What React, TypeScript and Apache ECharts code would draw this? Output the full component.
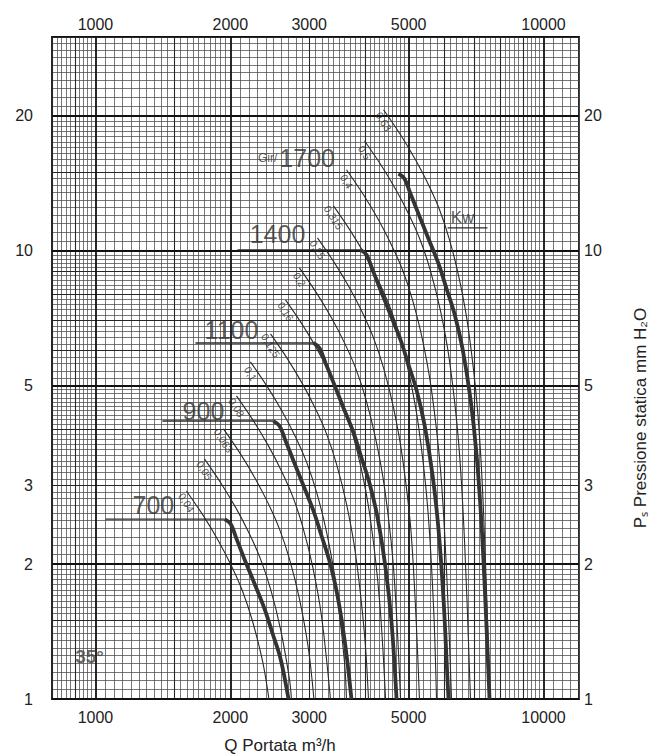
import React, { useEffect, useRef } from "react";
import * as echarts from "echarts";

// ---------- axes (log-log paper) ----------
const qRange = [800, 12000]; // Q Portata m3/h
const psRange = [1, 30]; // Ps mm H2O
const qTicks = [1000, 2000, 3000, 5000, 10000];
const psTicks = [1, 2, 3, 5, 10, 20];
// log paper subdivision of each decade: [from, to, step] of the mantissa
const paperSubdivisions = [
  [1, 2, 0.05],
  [2, 5, 0.1],
  [5, 10, 0.2],
];

// ---------- fan curves (rpm) : [Q m3/h, Ps mm H2O] ----------
const speeds = ["700", "900", "1100", "1400", "1700"];
const fan700 = [[1941, 2.52], [2002, 2.46], [2064, 2.28], [2151, 2.05], [2264, 1.81], [2384, 1.59], [2485, 1.4], [2589, 1.23], [2697, 1.0]];
const fan900 = [[2496, 4.17], [2574, 4.07], [2656, 3.77], [2767, 3.4], [2913, 2.99], [3066, 2.63], [3197, 2.31], [3330, 2.03], [3469, 1.7], [3614, 1.31], [3727, 1.0]];
const fan1100 = [[3066, 6.23], [3162, 6.07], [3262, 5.62], [3399, 5.08], [3578, 4.46], [3767, 3.93], [3925, 3.45], [4090, 3.03], [4262, 2.54], [4441, 1.96], [4580, 1.48], [4699, 1.0]];
const fan1400 = [[3905, 10.05], [4027, 9.8], [4154, 9.07], [4328, 8.18], [4556, 7.2], [4796, 6.33], [4997, 5.57], [5207, 4.89], [5426, 4.09], [5654, 3.16], [5832, 2.38], [5984, 1.66], [6107, 1.1], [6137, 1.0]];
const fan1700 = [[4747, 14.86], [4895, 14.48], [5048, 13.41], [5260, 12.09], [5537, 10.64], [5832, 9.35], [6076, 8.23], [6331, 7.23], [6597, 6.04], [6871, 4.67], [7087, 3.52], [7271, 2.46], [7422, 1.63], [7577, 1.0]];
const fanCurves = [fan700, fan900, fan1100, fan1400, fan1700];

// ---------- absorbed power lines (kW) ----------
const kwValues = ["0,04", "0,05", "0,063", "0,08", "0,1", "0,125", "0,16", "0,2", "0,25", "0,315", "0,4", "0,5", "0,63"];
const kw004 = [[1596, 2.912], [1742, 2.562], [1882, 2.253], [2012, 1.981], [2129, 1.742], [2241, 1.493], [2360, 1.216], [2439, 1.0]];
const kw005 = [[1751, 3.434], [1911, 3.019], [2064, 2.656], [2207, 2.335], [2335, 2.054], [2459, 1.76], [2588, 1.433], [2710, 1.108], [2738, 1.0]];
const kw0063 = [[1931, 4.006], [2107, 3.523], [2276, 3.098], [2433, 2.725], [2574, 2.396], [2710, 2.054], [2853, 1.672], [2988, 1.293], [3073, 1.0]];
const kw008 = [[2064, 4.747], [2253, 4.174], [2433, 3.671], [2601, 3.228], [2753, 2.839], [2898, 2.433], [3051, 1.981], [3195, 1.532], [3346, 1.0]];
const kw01 = [[2218, 5.652], [2420, 4.972], [2615, 4.371], [2796, 3.844], [2958, 3.381], [3114, 2.898], [3279, 2.36], [3434, 1.825], [3596, 1.209], [3633, 1.0]];
const kw0125 = [[2459, 6.527], [2683, 5.741], [2898, 5.048], [3098, 4.441], [3279, 3.905], [3451, 3.346], [3633, 2.725], [3806, 2.107], [3985, 1.397], [4068, 1.0]];
const kw016 = [[2656, 7.773], [2898, 6.836], [3130, 6.012], [3346, 5.286], [3541, 4.649], [3728, 3.985], [3925, 3.245], [4111, 2.509], [4305, 1.663], [4441, 1.0]];
const kw02 = [[2853, 9.164], [3114, 8.058], [3363, 7.087], [3596, 6.232], [3806, 5.481], [4006, 4.698], [4217, 3.824], [4418, 2.958], [4627, 1.96], [4796, 1.0]];
const kw025 = [[3130, 10.69], [3416, 9.402], [3690, 8.268], [3945, 7.271], [4174, 6.394], [4395, 5.481], [4627, 4.463], [4845, 3.451], [5075, 2.287], [5286, 1.0]];
const kw0315 = [[3399, 12.6], [3709, 11.08], [4006, 9.746], [4282, 8.57], [4532, 7.539], [4771, 6.46], [5022, 5.26], [5260, 4.068], [5510, 2.697], [5682, 1.613], [5770, 1.0]];
const kw04 = [[3633, 15.17], [3965, 13.34], [4282, 11.73], [4578, 10.31], [4845, 9.071], [5100, 7.773], [5370, 6.33], [5623, 4.894], [5890, 3.245], [6074, 1.941], [6232, 1.0]];
const kw05 = [[3985, 17.6], [4349, 15.48], [4698, 13.61], [5022, 11.97], [5314, 10.53], [5594, 9.024], [5890, 7.345], [6169, 5.682], [6460, 3.766], [6664, 2.253], [6871, 1.0]];
const kw063 = [[4395, 20.64], [4796, 18.15], [5180, 15.96], [5538, 14.04], [5861, 12.35], [6169, 10.58], [6494, 8.614], [6801, 6.664], [7124, 4.418], [7345, 2.642], [7596, 1.0]];
const kwCurves = [kw004, kw005, kw0063, kw008, kw01, kw0125, kw016, kw02, kw025, kw0315, kw04, kw05, kw063];

// ---------- leader lines under the speed labels (Q from, Q to, Ps) ----------
const speedLeaders = [
  [1053, 1941, 2.52],
  [1411, 2496, 4.17],
  [1672, 3066, 6.23],
  [2075, 3905, 10.05],
];
const kwLeader = [6107, 7499, 11.25];

// ---------- annotation anchors (data coordinates) ----------
const speedLabelAnchors = [
  { text: "700", q: 1347, p: 2.71 },
  { text: "900", q: 1742, p: 4.395 },
  { text: "1100", q: 2012, p: 6.66 },
  { text: "1400", q: 2549, p: 10.91 },
];
const girAnchor = { gir: "Gir/", speed: "1700", q: 2810, p: 16.13 };
const kwUnitAnchor = { text: "Kw", q: 6597, p: 11.85 };
const angleAnchor = { text: "35°", q: 970, p: 1.247 };

const FONT = '"Liberation Sans", Arial, Helvetica, sans-serif';
const INK = "#2a2a2a";

function buildPaper(min: number, max: number) {
  const out: { v: number; level: number }[] = [];
  for (let e = Math.floor(Math.log10(min)); Math.pow(10, e) < max; e++) {
    const base = Math.pow(10, e);
    for (const [a, b, s] of paperSubdivisions) {
      const n = Math.round((b - a) / s);
      for (let i = 0; i < n; i++) {
        const m = Math.round((a + i * s) * 1000) / 1000;
        const v = m * base;
        if (v < min * 0.9999 || v > max * 1.0001) continue;
        const level = m === 1 || m === 2 || m === 5 ? 2 : Number.isInteger(m) || m === 1.5 ? 1 : 0;
        out.push({ v, level });
      }
    }
  }
  return out;
}

function buildOption() {
  const xPaper = buildPaper(qRange[0], qRange[1]);
  const yPaper = buildPaper(psRange[0], psRange[1]);
  const levelStyles = [
    { width: 0.75, color: "#4a4a4a" },
    { width: 1.1, color: "#262626" },
    { width: 1.8, color: "#111111" },
  ];
  const paperSeries = [0, 1, 2].map((level) => ({
    type: "lines",
    coordinateSystem: "cartesian2d",
    silent: true,
    z: 1 + level,
    lineStyle: { ...levelStyles[level], opacity: 1 },
    data: [
      ...xPaper.filter((l) => l.level === level).map((l) => ({ coords: [[l.v, psRange[0]], [l.v, psRange[1]]] })),
      ...yPaper.filter((l) => l.level === level).map((l) => ({ coords: [[qRange[0], l.v], [qRange[1], l.v]] })),
    ],
  }));

  const fanSeries = fanCurves.map((d, i) => ({
    type: "line",
    name: speeds[i] + " giri/1'",
    data: d,
    symbol: "none",
    showSymbol: false,
    smooth: 0.35,
    silent: true,
    z: 6,
    lineStyle: { width: 3.8, color: "#333333" },
  }));

  const kwSeries = kwCurves.map((d, i) => ({
    type: "line",
    name: kwValues[i] + " kW",
    data: d,
    symbol: "none",
    showSymbol: false,
    smooth: 0.35,
    silent: true,
    z: 5,
    lineStyle: { width: 1.1, color: INK },
  }));

  const leaderSeries = [...speedLeaders, kwLeader].map((l) => ({
    type: "line",
    data: [[l[0], l[2]], [l[1], l[2]]],
    symbol: "none",
    showSymbol: false,
    silent: true,
    z: 5,
    lineStyle: { width: 1.4, color: INK },
  }));

  const kwLabelSeries = {
    type: "scatter",
    silent: true,
    z: 8,
    symbolSize: 1,
    itemStyle: { color: "transparent" },
    label: {
      show: true,
      position: "inside",
      formatter: "{b}",
      rotate: -58,
      offset: [10, 6],
      fontSize: 10.5,
      fontFamily: FONT,
      color: INK,
    },
    data: kwCurves.map((d, i) => ({ name: kwValues[i], value: d[0] })),
  };

  const textSeries = {
    type: "scatter",
    silent: true,
    z: 8,
    symbolSize: 1,
    itemStyle: { color: "transparent" },
    label: {
      show: true,
      position: "inside",
      formatter: "{b}",
      fontSize: 25,
      fontFamily: FONT,
      color: "#333",
      rich: {
        g: { fontSize: 12, fontFamily: FONT, color: "#333", padding: [0, 2, 0, 0] },
        s: { fontSize: 25, fontFamily: FONT, color: "#333" },
      },
    },
    data: [
      ...speedLabelAnchors.map((a) => ({ name: a.text, value: [a.q, a.p] })),
      {
        name: girAnchor.gir + girAnchor.speed,
        value: [girAnchor.q, girAnchor.p],
        label: { formatter: "{g|" + girAnchor.gir + "}{s|" + girAnchor.speed + "}" },
      },
      { name: kwUnitAnchor.text, value: [kwUnitAnchor.q, kwUnitAnchor.p], label: { fontSize: 17 } },
      {
        name: angleAnchor.text,
        value: [angleAnchor.q, angleAnchor.p],
        label: { fontSize: 19, fontWeight: "bold", color: "#444" },
      },
    ],
  };

  const axisLine = { show: true, onZero: false, lineStyle: { color: "#111", width: 1.8 } };
  const labelBase = { color: "#222", fontSize: 16, fontFamily: FONT, hideOverlap: false };
  const xCommon = {
    type: "log",
    logBase: 10,
    min: qRange[0],
    max: qRange[1],
    axisTick: { show: false },
    splitLine: { show: false },
    minorTick: { show: false },
    minorSplitLine: { show: false },
    axisLine,
  };
  const yCommon = {
    type: "log",
    logBase: 10,
    min: psRange[0],
    max: psRange[1],
    axisTick: { show: false },
    splitLine: { show: false },
    minorTick: { show: false },
    minorSplitLine: { show: false },
    axisLine,
  };
  const fmt = (v: number) => String(Math.round(v));

  return {
    animation: false,
    backgroundColor: "#ffffff",
    grid: { left: 52, top: 37, width: 527, height: 662, containLabel: false },
    xAxis: [
      { ...xCommon, position: "bottom", axisLabel: { ...labelBase, customValues: qTicks, formatter: fmt, margin: 10 } },
      { ...xCommon, position: "top", axisLabel: { ...labelBase, customValues: qTicks, formatter: fmt, margin: 5 } },
    ],
    yAxis: [
      {
        ...yCommon,
        position: "left",
        axisLabel: { ...labelBase, customValues: psTicks, formatter: fmt, margin: 19, padding: [0, 0, 8, 0] },
      },
      {
        ...yCommon,
        position: "right",
        axisLabel: { ...labelBase, customValues: psTicks, formatter: fmt, margin: 5, padding: [0, 0, 8, 0] },
      },
    ],
    graphic: [
      {
        type: "text",
        x: 280,
        y: 745,
        style: { text: "Q Portata m³/h", fontSize: 17, fontFamily: FONT, fill: "#222", align: "center", verticalAlign: "middle" },
      },
      {
        type: "text",
        x: 640,
        y: 418,
        rotation: Math.PI / 2,
        style: {
          text: "Pₛ Pressione statica mm H₂O",
          fontSize: 17,
          fontFamily: FONT,
          fill: "#222",
          align: "center",
          verticalAlign: "middle",
        },
      },
    ],
    series: [...paperSeries, ...kwSeries, ...fanSeries, ...leaderSeries, kwLabelSeries, textSeries],
  };
}

export default function App() {
  const ref = useRef<HTMLDivElement>(null);
  useEffect(() => {
    if (!ref.current) return;
    const chart = echarts.init(ref.current, null, { renderer: "svg" });
    chart.setOption(buildOption() as any);
    return () => chart.dispose();
  }, []);
  return (
    <div
      ref={ref}
      style={{ position: "fixed", left: 0, top: 0, width: 661, height: 756, background: "#fff" }}
    />
  );
}
